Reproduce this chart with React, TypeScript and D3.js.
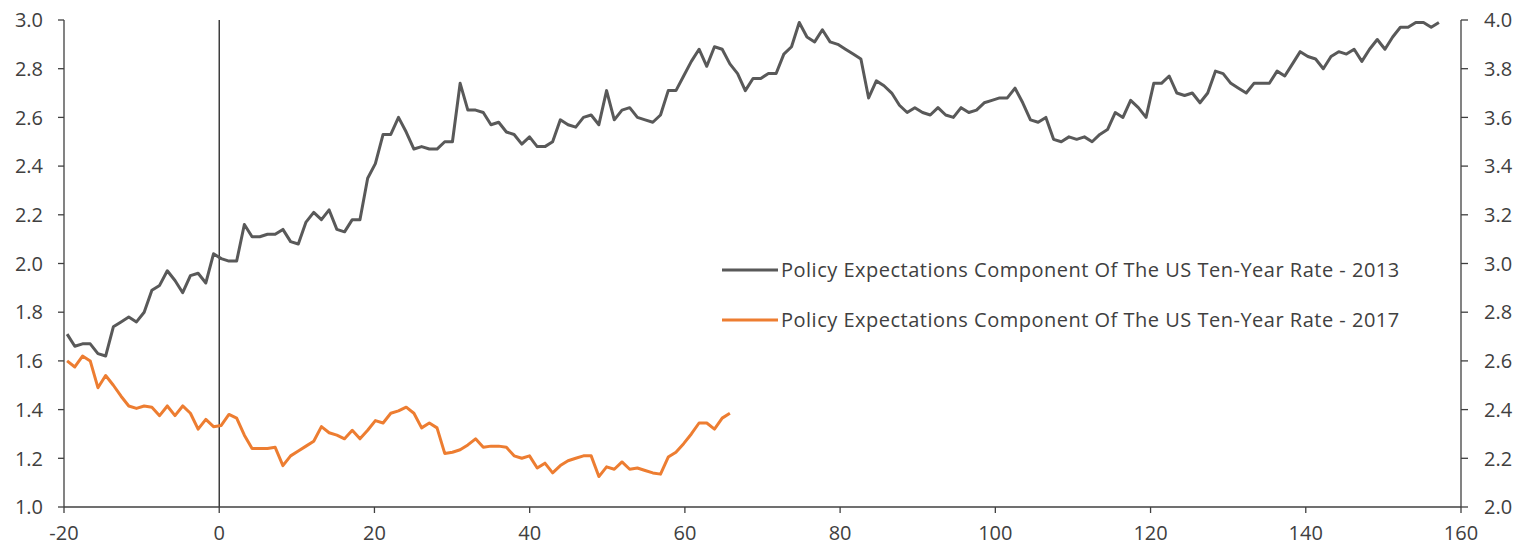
import { useMemo } from "react";
import * as d3 from "d3";

const WIDTH = 1518;
const HEIGHT = 547;
const MARGIN = { top: 20, right: 57, bottom: 40, left: 64 };

// weeks relative to the event, first point and spacing
const X_START = -19.6;
const X_STEP = 0.993;

const xTicks = [-20, 0, 20, 40, 60, 80, 100, 120, 140, 160];
const leftTicks = [1.0, 1.2, 1.4, 1.6, 1.8, 2.0, 2.2, 2.4, 2.6, 2.8, 3.0];
const rightTicks = [2.0, 2.2, 2.4, 2.6, 2.8, 3.0, 3.2, 3.4, 3.6, 3.8, 4.0];

const seriesNames = [
  "Policy Expectations Component Of The US Ten-Year Rate - 2013",
  "Policy Expectations Component Of The US Ten-Year Rate - 2017",
];

// 2013, left axis
const values2013 = [
  1.71, 1.66, 1.67, 1.67, 1.63, 1.62, 1.74, 1.76, 1.78, 1.76,
  1.8, 1.89, 1.91, 1.97, 1.93, 1.88, 1.95, 1.96, 1.92, 2.04,
  2.02, 2.01, 2.01, 2.16, 2.11, 2.11, 2.12, 2.12, 2.14, 2.09,
  2.08, 2.17, 2.21, 2.18, 2.22, 2.14, 2.13, 2.18, 2.18, 2.35,
  2.41, 2.53, 2.53, 2.6, 2.54, 2.47, 2.48, 2.47, 2.47, 2.5,
  2.5, 2.74, 2.63, 2.63, 2.62, 2.57, 2.58, 2.54, 2.53, 2.49,
  2.52, 2.48, 2.48, 2.5, 2.59, 2.57, 2.56, 2.6, 2.61, 2.57,
  2.71, 2.59, 2.63, 2.64, 2.6, 2.59, 2.58, 2.61, 2.71, 2.71,
  2.77, 2.83, 2.88, 2.81, 2.89, 2.88, 2.82, 2.78, 2.71, 2.76,
  2.76, 2.78, 2.78, 2.86, 2.89, 2.99, 2.93, 2.91, 2.96, 2.91,
  2.9, 2.88, 2.86, 2.84, 2.68, 2.75, 2.73, 2.7, 2.65, 2.62,
  2.64, 2.62, 2.61, 2.64, 2.61, 2.6, 2.64, 2.62, 2.63, 2.66,
  2.67, 2.68, 2.68, 2.72, 2.66, 2.59, 2.58, 2.6, 2.51, 2.5,
  2.52, 2.51, 2.52, 2.5, 2.53, 2.55, 2.62, 2.6, 2.67, 2.64,
  2.6, 2.74, 2.74, 2.77, 2.7, 2.69, 2.7, 2.66, 2.7, 2.79,
  2.78, 2.74, 2.72, 2.7, 2.74, 2.74, 2.74, 2.79, 2.77, 2.82,
  2.87, 2.85, 2.84, 2.8, 2.85, 2.87, 2.86, 2.88, 2.83, 2.88,
  2.92, 2.88, 2.93, 2.97, 2.97, 2.99, 2.99, 2.97, 2.99,
];

// 2017, right axis
const values2017 = [
  2.6, 2.575, 2.62, 2.6, 2.49, 2.54, 2.5, 2.455, 2.415, 2.405,
  2.415, 2.41, 2.375, 2.415, 2.375, 2.415, 2.385, 2.32, 2.36, 2.33,
  2.335, 2.38, 2.365, 2.295, 2.24, 2.24, 2.24, 2.245, 2.17, 2.21,
  2.23, 2.25, 2.27, 2.33, 2.305, 2.295, 2.28, 2.315, 2.28, 2.315,
  2.355, 2.345, 2.385, 2.395, 2.41, 2.385, 2.325, 2.345, 2.325, 2.22,
  2.225, 2.235, 2.255, 2.28, 2.245, 2.25, 2.25, 2.245, 2.21, 2.2,
  2.21, 2.16, 2.18, 2.14, 2.17, 2.19, 2.2, 2.21, 2.21, 2.125,
  2.165, 2.155, 2.185, 2.155, 2.16, 2.15, 2.14, 2.135, 2.205, 2.225,
  2.26, 2.3, 2.345, 2.345, 2.32, 2.365, 2.385,
];

const colors = ["#595959", "#ED7D31"];
const FONT = "'Open Sans', 'Noto Sans', sans-serif";
const AXIS_COLOR = "#404040";
const TEXT_COLOR = "#404040";

export default function App() {
  const boundsWidth = WIDTH - MARGIN.left - MARGIN.right;
  const boundsHeight = HEIGHT - MARGIN.top - MARGIN.bottom;

  const xScale = useMemo(
    () => d3.scaleLinear().domain([-20, 160]).range([0, boundsWidth]),
    [boundsWidth]
  );
  const yLeft = useMemo(
    () => d3.scaleLinear().domain([1.0, 3.0]).range([boundsHeight, 0]),
    [boundsHeight]
  );
  const yRight = useMemo(
    () => d3.scaleLinear().domain([2.0, 4.0]).range([boundsHeight, 0]),
    [boundsHeight]
  );

  const line2013 = d3
    .line<number>()
    .x((_, i) => xScale(X_START + i * X_STEP))
    .y((d) => yLeft(d))(values2013);

  const line2017 = d3
    .line<number>()
    .x((_, i) => xScale(X_START + i * X_STEP))
    .y((d) => yRight(d))(values2017);

  return (
    <svg
      width={WIDTH}
      height={HEIGHT}
      style={{ position: "absolute", left: 0, top: 0, background: "#fff" }}
      fontFamily={FONT}
    >
      <g transform={`translate(${MARGIN.left},${MARGIN.top})`}>
        {/* event marker at week 0 */}
        <line
          x1={xScale(0)}
          x2={xScale(0)}
          y1={0}
          y2={boundsHeight}
          stroke="#222"
          strokeWidth={1.3}
        />

        <path d={line2013 ?? ""} fill="none" stroke={colors[0]} strokeWidth={3} strokeLinejoin="round" />
        <path d={line2017 ?? ""} fill="none" stroke={colors[1]} strokeWidth={3} strokeLinejoin="round" />

        {/* left axis */}
        <line x1={0} x2={0} y1={0} y2={boundsHeight} stroke={AXIS_COLOR} strokeWidth={1.3} />
        {leftTicks.map((t) => (
          <g key={"l" + t} transform={`translate(0,${yLeft(t)})`}>
            <line x1={-6} x2={0} stroke={AXIS_COLOR} strokeWidth={1.3} />
            <text x={-21} dy="0.36em" textAnchor="end" fontSize={20} fill={TEXT_COLOR}>
              {t.toFixed(1)}
            </text>
          </g>
        ))}

        {/* right axis */}
        <line x1={boundsWidth} x2={boundsWidth} y1={0} y2={boundsHeight} stroke={AXIS_COLOR} strokeWidth={1.3} />
        {rightTicks.map((t) => (
          <g key={"r" + t} transform={`translate(${boundsWidth},${yRight(t)})`}>
            <line x1={0} x2={7} stroke={AXIS_COLOR} strokeWidth={1.3} />
            <text x={23} dy="0.36em" textAnchor="start" fontSize={20} fill={TEXT_COLOR}>
              {t.toFixed(1)}
            </text>
          </g>
        ))}

        {/* bottom axis */}
        <line x1={0} x2={boundsWidth} y1={boundsHeight} y2={boundsHeight} stroke={AXIS_COLOR} strokeWidth={1.3} />
        {xTicks.map((t) => (
          <g key={"x" + t} transform={`translate(${xScale(t)},${boundsHeight})`}>
            <line y1={0} y2={6} stroke={AXIS_COLOR} strokeWidth={1.3} />
            <text y={26} dy="0.36em" textAnchor="middle" fontSize={20} fill={TEXT_COLOR}>
              {t}
            </text>
          </g>
        ))}
      </g>

      {/* legend */}
      {seriesNames.map((name, i) => (
        <g key={name} transform={`translate(722,${270 + i * 50})`}>
          <line x1={0} x2={56} stroke={colors[i]} strokeWidth={3} />
          <text x={59} dy="0.36em" fontSize={20} letterSpacing={0.5} fill={TEXT_COLOR}>
            {name}
          </text>
        </g>
      ))}
    </svg>
  );
}
